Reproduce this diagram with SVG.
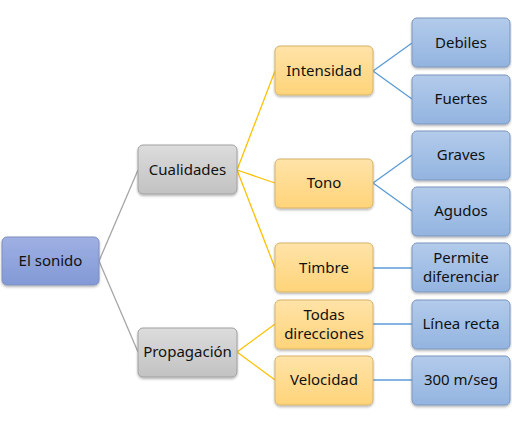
<svg xmlns="http://www.w3.org/2000/svg" width="512" height="424" viewBox="0 0 512 424">
<defs>
<linearGradient id="gP" x1="0" y1="0" x2="0" y2="1"><stop offset="0" stop-color="#9fb0e3"/><stop offset="1" stop-color="#8299d6"/></linearGradient>
<linearGradient id="gG" x1="0" y1="0" x2="0" y2="1"><stop offset="0" stop-color="#dcdcdc"/><stop offset="1" stop-color="#c2c2c2"/></linearGradient>
<linearGradient id="gO" x1="0" y1="0" x2="0" y2="1"><stop offset="0" stop-color="#ffe3a8"/><stop offset="1" stop-color="#ffd47a"/></linearGradient>
<linearGradient id="gB" x1="0" y1="0" x2="0" y2="1"><stop offset="0" stop-color="#b3cbeb"/><stop offset="1" stop-color="#93b4e0"/></linearGradient>
<filter id="sh" x="-10%" y="-10%" width="130%" height="140%"><feDropShadow dx="0" dy="1.5" stdDeviation="1.2" flood-color="#000" flood-opacity="0.3"/></filter>
</defs>
<style>
.n rect{stroke-width:1;filter:url(#sh)}
.p rect{fill:url(#gP);stroke:#7f8fbf}
.g rect{fill:url(#gG);stroke:#a0a0a0}
.o rect{fill:url(#gO);stroke:#d6b36a}
.b rect{fill:url(#gB);stroke:#7c96bd}
text{font-family:"Noto Sans","Liberation Sans",sans-serif;font-size:15px;fill:#111;text-anchor:middle}
.cg line{stroke:#a6a6a6;stroke-width:1.3}
.cy line{stroke:#ffc000;stroke-width:1.3}
.cb line{stroke:#5b9bd5;stroke-width:1.3}
</style>
<g id="connectors">
<g class="cg">
<line x1="99" y1="261" x2="138" y2="170"/>
<line x1="99" y1="261" x2="138" y2="352"/>
</g>
<g class="cy">
<line x1="237" y1="170" x2="275" y2="71"/>
<line x1="237" y1="170" x2="275" y2="183"/>
<line x1="237" y1="170" x2="275" y2="268"/>
<line x1="237" y1="352" x2="275" y2="324"/>
<line x1="237" y1="352" x2="275" y2="380"/>
</g>
<g class="cb">
<line x1="373" y1="71" x2="412" y2="43"/>
<line x1="373" y1="71" x2="412" y2="99"/>
<line x1="373" y1="183" x2="412" y2="155"/>
<line x1="373" y1="183" x2="412" y2="211"/>
<line x1="373" y1="268" x2="412" y2="268"/>
<line x1="373" y1="324" x2="412" y2="324"/>
<line x1="373" y1="380" x2="412" y2="380"/>
</g>
</g>
<g id="n-sonido" class="n p"><rect x="2" y="237" width="97" height="48" rx="5"/><text x="50.5" y="266">El sonido</text></g>
<g id="n-cualidades" class="n g"><rect x="138" y="145" width="99" height="49" rx="5"/><text x="187.5" y="175">Cualidades</text></g>
<g id="n-propagacion" class="n g"><rect x="138" y="328" width="99" height="49" rx="5"/><text x="187.5" y="357">Propagación</text></g>
<g id="n-intensidad" class="n o"><rect x="275" y="46" width="98" height="49" rx="5"/><text x="324" y="76">Intensidad</text></g>
<g id="n-tono" class="n o"><rect x="275" y="159" width="98" height="49" rx="5"/><text x="324" y="188">Tono</text></g>
<g id="n-timbre" class="n o"><rect x="275" y="243" width="98" height="49" rx="5"/><text x="324" y="273">Timbre</text></g>
<g id="n-todas" class="n o"><rect x="275" y="300" width="98" height="49" rx="5"/><text x="324" y="320">Todas</text><text x="324" y="339">direcciones</text></g>
<g id="n-velocidad" class="n o"><rect x="275" y="356" width="98" height="49" rx="5"/><text x="324" y="385">Velocidad</text></g>
<g id="n-debiles" class="n b"><rect x="412" y="18" width="98" height="49" rx="5"/><text x="461" y="48">Debiles</text></g>
<g id="n-fuertes" class="n b"><rect x="412" y="75" width="98" height="49" rx="5"/><text x="461" y="104">Fuertes</text></g>
<g id="n-graves" class="n b"><rect x="412" y="131" width="98" height="49" rx="5"/><text x="461" y="160">Graves</text></g>
<g id="n-agudos" class="n b"><rect x="412" y="187" width="98" height="49" rx="5"/><text x="461" y="216">Agudos</text></g>
<g id="n-permite" class="n b"><rect x="412" y="243" width="98" height="49" rx="5"/><text x="461" y="263">Permite</text><text x="461" y="282">diferenciar</text></g>
<g id="n-linea" class="n b"><rect x="412" y="300" width="98" height="49" rx="5"/><text x="461" y="329">Línea recta</text></g>
<g id="n-300" class="n b"><rect x="412" y="356" width="98" height="49" rx="5"/><text x="461" y="385">300 m/seg</text></g>
</svg>
